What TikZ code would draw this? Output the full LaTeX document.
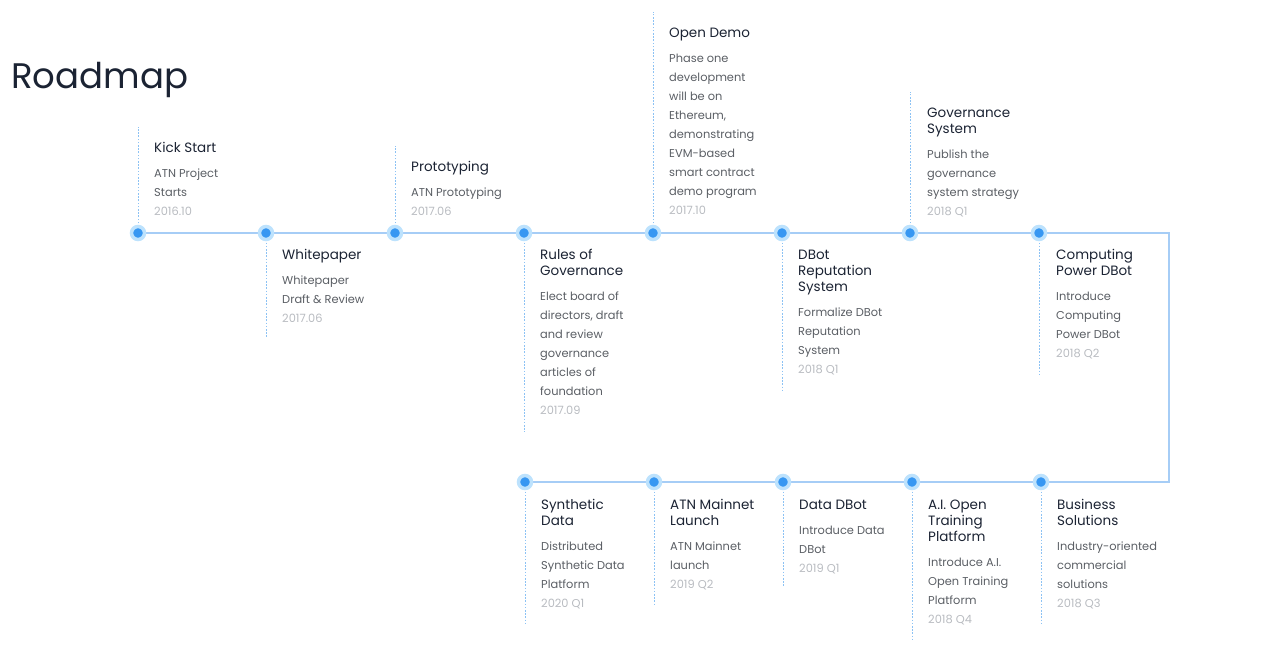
\documentclass[tikz,border=0pt]{standalone}
\usepackage{fontspec}
\setmainfont{Poppins}
\definecolor{headc}{HTML}{1B2333}
\definecolor{bodyc}{HTML}{5A5E64}
\definecolor{datec}{HTML}{B8BBC0}
\definecolor{linec}{HTML}{A6CDF6}
\definecolor{halo}{HTML}{BDE2FD}
\definecolor{dotc}{HTML}{3797F2}
\definecolor{dashc}{HTML}{8CC2F4}
\newcommand\hfnt{\fontsize{13.5}{16}\selectfont}
\newcommand\bfnt{\fontsize{11.4}{19}\selectfont}
\newcommand\hl[1]{\baselineskip=16pt\hbox{\hfnt\color{headc}#1}}
\newcommand\fb[1]{\baselineskip=25pt\hbox{\bfnt\color{bodyc}#1}}
\newcommand\bl[1]{\baselineskip=19pt\hbox{\bfnt\color{bodyc}#1}}
\newcommand\dl[1]{\baselineskip=19pt\hbox{\bfnt\color{datec}#1}}
\newcommand\blk[1]{\vtop{\lineskiplimit=-100pt\lineskip=0pt #1}}
\begin{document}
\begin{tikzpicture}[x=1pt,y=-1pt,
  mainline/.style={draw=linec,line width=1.6pt},
  dotnode/.style={circle,fill=dotc,draw=halo,line width=3.5pt,minimum size=13pt,inner sep=0pt},
  guide/.style={draw=dashc,line width=1pt,dash pattern=on 1.6pt off 1.6pt},
  item/.style={anchor=base west,inner sep=0pt,align=left}]
\useasboundingbox (0,0) rectangle (1287,664);
\node[anchor=base west,inner sep=0pt,font=\fontsize{35.5}{40}\selectfont,text=headc] (title) at (11,88) {Roadmap};
% dot positions
\coordinate (p1) at (138,233);
\coordinate (p2) at (266,233);
\coordinate (p3) at (395,233);
\coordinate (p4) at (524,233);
\coordinate (p5) at (653,233);
\coordinate (p6) at (782,233);
\coordinate (p7) at (910,233);
\coordinate (p8) at (1039,233);
\coordinate (c1) at (1169,233);
\coordinate (c2) at (1169,482);
\coordinate (p13) at (1041,482);
\coordinate (p12) at (912,482);
\coordinate (p11) at (783,482);
\coordinate (p10) at (654,482);
\coordinate (p9) at (525,482);
% guide ends
\coordinate (e1) at (138,127);
\coordinate (e2) at (266,338);
\coordinate (e3) at (395,146);
\coordinate (e4) at (524,432);
\coordinate (e5) at (653,12);
\coordinate (e6) at (782,390);
\coordinate (e7) at (910,92);
\coordinate (e8) at (1039,374);
\coordinate (e9) at (525,624);
\coordinate (e10) at (654,605);
\coordinate (e11) at (783,587);
\coordinate (e12) at (912,640);
\coordinate (e13) at (1041,624);
\foreach \i in {1,...,13} {\draw[guide] (p\i) -- (e\i);}
\draw[mainline] (p1) -- (c1) -- (c2) -- (p9);
\foreach \i in {1,...,13} {\node[dotnode] (d\i) at (p\i) {};}
% texts
\node[item] (t1) at (154,152) {\blk{\hl{Kick Start}\fb{ATN Project}\bl{Starts}\dl{2016.10}}};
\node[item] (t2) at (282,259) {\blk{\hl{Whitepaper}\fb{Whitepaper}\bl{Draft \& Review}\dl{2017.06}}};
\node[item] (t3) at (411,171) {\blk{\hl{Prototyping}\fb{ATN Prototyping}\dl{2017.06}}};
\node[item] (t4) at (540,259) {\blk{\hl{Rules of}\hl{Governance}\fb{Elect board of}\bl{directors, draft}\bl{and review}\bl{governance}\bl{articles of}\bl{foundation}\dl{2017.09}}};
\node[item] (t5) at (669,37) {\blk{\hl{Open Demo}\fb{Phase one}\bl{development}\bl{will be on}\bl{Ethereum,}\bl{demonstrating}\bl{EVM-based}\bl{smart contract}\bl{demo program}\dl{2017.10}}};
\node[item] (t6) at (798,259) {\blk{\hl{DBot}\hl{Reputation}\hl{System}\fb{Formalize DBot}\bl{Reputation}\bl{System}\dl{2018 Q1}}};
\node[item] (t7) at (927,117) {\blk{\hl{Governance}\hl{System}\fb{Publish the}\bl{governance}\bl{system strategy}\dl{2018 Q1}}};
\node[item] (t8) at (1056,259) {\blk{\hl{Computing}\hl{Power DBot}\fb{Introduce}\bl{Computing}\bl{Power DBot}\dl{2018 Q2}}};
\node[item] (t9) at (541,509) {\blk{\hl{Synthetic}\hl{Data}\fb{Distributed}\bl{Synthetic Data}\bl{Platform}\dl{2020 Q1}}};
\node[item] (t10) at (670,509) {\blk{\hl{ATN Mainnet}\hl{Launch}\fb{ATN Mainnet}\bl{launch}\dl{2019 Q2}}};
\node[item] (t11) at (799,509) {\blk{\hl{Data DBot}\fb{Introduce Data}\bl{DBot}\dl{2019 Q1}}};
\node[item] (t12) at (928,509) {\blk{\hl{A.I. Open}\hl{Training}\hl{Platform}\fb{Introduce A.I.}\bl{Open Training}\bl{Platform}\dl{2018 Q4}}};
\node[item] (t13) at (1057,509) {\blk{\hl{Business}\hl{Solutions}\fb{Industry-oriented}\bl{commercial}\bl{solutions}\dl{2018 Q3}}};
\end{tikzpicture}
\end{document}
